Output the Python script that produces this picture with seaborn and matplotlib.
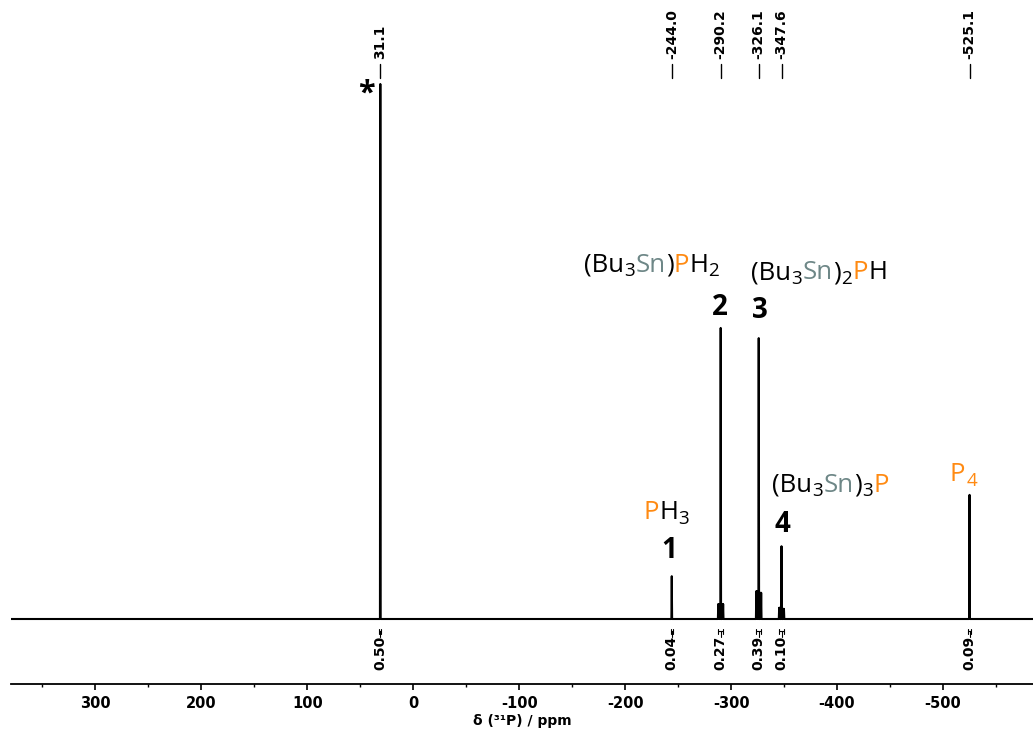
import numpy as np
import pandas as pd
import matplotlib
matplotlib.use("Agg")
import matplotlib.pyplot as plt
import seaborn as sns
from matplotlib.offsetbox import TextArea, HPacker, AnnotationBbox

sns.set_theme(style="white")
plt.rcParams["font.family"] = ["DejaVu Sans"]
plt.rcParams["axes.unicode_minus"] = False
plt.rcParams["text.color"] = "black"
plt.rcParams["xtick.color"] = "black"
plt.rcParams["axes.labelcolor"] = "black"
plt.rcParams["mathtext.fontset"] = "custom"
plt.rcParams["mathtext.rm"] = "Open Sans"
plt.rcParams["mathtext.it"] = "Open Sans"
plt.rcParams["mathtext.bf"] = "Open Sans:bold"

# ---------------- data ----------------
peak_ppm = [31.1, -244.0, -290.2, -326.1, -347.6, -525.1]
peak_height = [100.0, 8.0, 54.4, 52.5, 13.6, 23.2]
peak_labels = ["31.1", "-244.0", "-290.2", "-326.1", "-347.6", "-525.1"]

sat_ppm = [-287.9, -288.7, -291.7, -292.5,
           -323.8, -324.6, -327.6, -328.4,
           -345.4, -346.0, -349.3, -349.9]
sat_height = [2.8, 2.8, 2.8, 2.8,
              5.2, 5.2, 4.9, 4.9,
              2.1, 2.1, 1.9, 1.9]

integral_ppm = [31.1, -244.0, -290.2, -326.1, -347.6, -525.1]
integral_values = ["0.50", "0.04", "0.27", "0.39", "0.10", "0.09"]
integral_half_width = [1.0, 1.0, 2.5, 2.5, 2.5, 1.0]

tick_values = [300, 200, 100, 0, -100, -200, -300, -400, -500]
tick_labels = ["300", "200", "100", "0", "-100", "-200", "-300", "-400", "-500"]
minor_values = [350, 250, 150, 50, -50, -150, -250, -350, -450, -550]
x_range = (380, -585)

# ---------------- build stick trace ----------------
lines = sorted(zip(peak_ppm + sat_ppm, peak_height + sat_height), key=lambda t: -t[0])
xs, ys = [x_range[0]], [0.0]
for p, h in lines:
    xs += [p + 0.35, p, p - 0.35]
    ys += [0.0, h, 0.0]
xs.append(x_range[1]); ys.append(0.0)
spec = pd.DataFrame({"ppm": xs, "intensity": ys})

# ---------------- figure ----------------
W, H = 1033, 729
fig = plt.figure(figsize=(W / 100, H / 100), dpi=100)
ax_left, ax_bottom_px, base_px, scale = 10.7, 684, 619, 5.35
ax = fig.add_axes([ax_left / W, (H - ax_bottom_px) / H, (W - ax_left) / W, ax_bottom_px / H])
ax.set_xlim(*x_range)
ax.set_ylim(-(ax_bottom_px - base_px) / scale, base_px / scale)

def ypix(py):
    return (base_px - py) / scale

sns.lineplot(data=spec, x="ppm", y="intensity", sort=False, estimator=None,
             color="black", lw=1.5, ax=ax)

for s in ["left", "right", "top"]:
    ax.spines[s].set_visible(False)
ax.spines["bottom"].set_color("black")
ax.spines["bottom"].set_linewidth(1.3)
ax.set_yticks([])
ax.set_ylabel("")
ax.set_xticks(tick_values)
ax.set_xticklabels(tick_labels, fontweight="bold", fontsize=10.5)
ax.set_xticks(minor_values, minor=True)
ax.tick_params(axis="x", which="major", direction="out", length=4.5, width=1.2,
               color="black", labelcolor="black", pad=4, bottom=True)
ax.tick_params(axis="x", which="minor", direction="out", length=2.5, width=1.0,
               color="black", bottom=True)
ax.set_xlabel("δ (³¹P) / ppm", fontweight="bold", fontsize=10, labelpad=2, color="black")

# peak labels at top
for p, lab in zip(peak_ppm, peak_labels):
    ax.text(p, ypix(59), lab, rotation=90, ha="center", va="bottom",
            fontsize=10, fontweight="bold", color="black", clip_on=False)
    ax.plot([p, p], [ypix(64), ypix(78)], color="black", lw=1.0, clip_on=False)

# integrals
for p, v, hw in zip(integral_ppm, integral_values, integral_half_width):
    ax.plot([p - hw, p + hw], [ypix(631), ypix(631)], color="black", lw=0.8)
    ax.plot([p - hw, p - hw], [ypix(628.5), ypix(633.5)], color="black", lw=0.8)
    ax.plot([p + hw, p + hw], [ypix(628.5), ypix(633.5)], color="black", lw=0.8)
    ax.plot([p, p], [ypix(631), ypix(637)], color="black", lw=0.8)
    ax.text(p, ypix(636), v, rotation=90, ha="center", va="top",
            fontsize=10, fontweight="bold", color="black")

# compound labels
SN = "#6e8787"
PO = "#ff8a12"
FS = 18.5

def formula(parts, x_left, y_center):
    boxes = []
    for txt, col, sub in parts:
        if sub:
            t = TextArea("$_{%s}$" % txt, textprops=dict(color=col, fontsize=FS * 1.05,
                                                         family="Open Sans"))
        else:
            t = TextArea(txt, textprops=dict(color=col, fontsize=FS, family="Open Sans"))
        boxes.append(t)
    pack = HPacker(children=boxes, align="baseline", pad=0, sep=0)
    ab = AnnotationBbox(pack, (x_left, H - y_center), xycoords="figure pixels",
                        box_alignment=(0, 0.5), frameon=False, pad=0)
    fig.add_artist(ab)

formula([("P", PO, False), ("H", "black", False), ("3", "black", True)], 644, 512)
formula([("(Bu", "black", False), ("3", "black", True), ("Sn", SN, False), (")", "black", False),
         ("P", PO, False), ("H", "black", False), ("2", "black", True)], 584, 265)
formula([("(Bu", "black", False), ("3", "black", True), ("Sn", SN, False), (")", "black", False),
         ("2", "black", True), ("P", PO, False), ("H", "black", False)], 751, 272)
formula([("(Bu", "black", False), ("3", "black", True), ("Sn", SN, False), (")", "black", False),
         ("3", "black", True), ("P", PO, False)], 772, 485)
formula([("P", PO, False), ("4", PO, True)], 950, 474)

numbers = ["1", "2", "3", "4"]
num_pos = [(669, 551), (720, 307), (760, 311), (782, 525)]
for n, (px, py) in zip(numbers, num_pos):
    fig.text(px / W, 1 - py / H, n, ha="center", va="center", fontsize=20,
             fontweight="bold", family="Open Sans", color="black")
fig.text(366 / W, 1 - 94 / H, "*", ha="center", va="center", fontsize=22,
         fontweight="bold", family="Open Sans", color="black")

fig.savefig("out.png", dpi=100)
